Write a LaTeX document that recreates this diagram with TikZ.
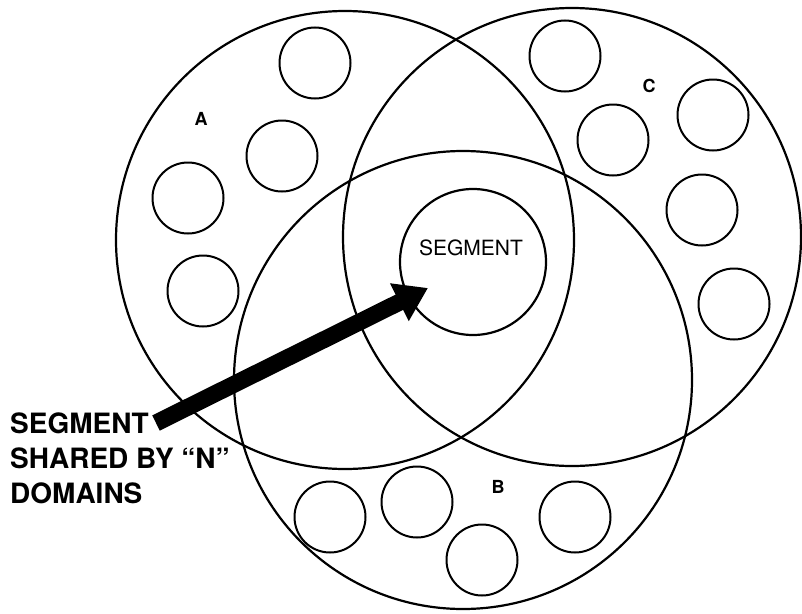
\documentclass[tikz,border=0pt]{standalone}
\usepackage{fontspec}
\setmainfont{TeX Gyre Heros}
\usetikzlibrary{arrows.meta}
\begin{document}
\begin{tikzpicture}[
  x=1pt, y=-1pt,
  dom/.style={draw, circle, line width=2.2pt, minimum size=458pt, inner sep=0pt},
  member/.style={draw, circle, line width=2pt, minimum size=71pt, inner sep=0pt},
  tag/.style={font=\fontsize{18}{18}\selectfont\bfseries, inner sep=0pt},
  pointer/.style={line width=17pt, -{Triangle[length=32pt, width=40pt]}}
]
\useasboundingbox (0,0) rectangle (802,613);
\node[dom] (domA) at (345,240) {};
\node[dom] (domC) at (572,237) {};
\node[dom] (domB) at (463,380) {};
\node[draw, circle, line width=2.2pt, minimum size=146pt, inner sep=0pt] (seg) at (473,262) {};
\node[font=\fontsize{21}{21}\selectfont, inner sep=0pt] (segtext) at (471,248) {SEGMENT};
% members of A
\node[member] (a1) at (315,63) {};
\node[member] (a2) at (282,156) {};
\node[member] (a3) at (188,198) {};
\node[member] (a4) at (203,291) {};
% members of C
\node[member] (c1) at (565,56) {};
\node[member] (c2) at (613,140) {};
\node[member] (c3) at (713,115) {};
\node[member] (c4) at (702,210) {};
\node[member] (c5) at (734,304) {};
% members of B
\node[member] (b1) at (330,517) {};
\node[member] (b2) at (417,502) {};
\node[member] (b3) at (482,560) {};
\node[member] (b4) at (575,517) {};
\node[tag] (labA) at (201,119) {A};
\node[tag] (labC) at (649,86) {C};
\node[tag] (labB) at (498,487) {B};
\node[anchor=north west, align=left, inner sep=0pt,
  font=\fontsize{28}{35}\selectfont\bfseries] (shared) at (10,413)
  {SEGMENT\\SHARED BY ``N''\\DOMAINS};
\coordinate (tail) at (156,423);
\coordinate (tip) at (428,288);
\draw[pointer] (tail) -- (tip);
\end{tikzpicture}
\end{document}
